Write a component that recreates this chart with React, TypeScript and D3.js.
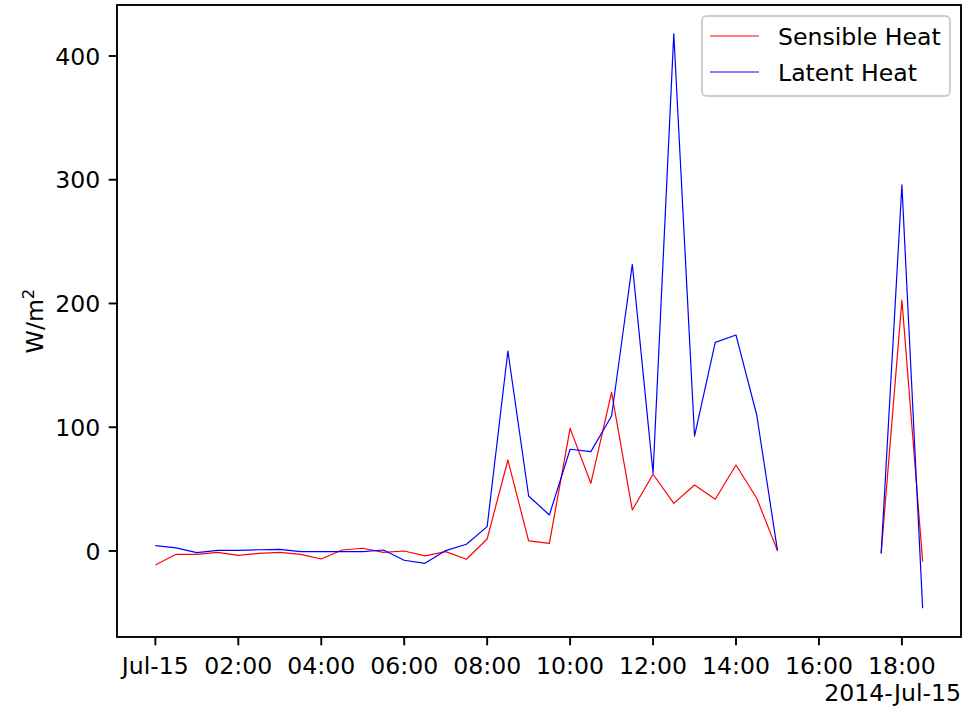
import React from "react";
import * as d3 from "d3";

const times: string[] = [
  "00:00","00:30","01:00","01:30","02:00","02:30","03:00","03:30","04:00","04:30",
  "05:00","05:30","06:00","06:30","07:00","07:30","08:00","08:30","09:00","09:30",
  "10:00","10:30","11:00","11:30","12:00","12:30","13:00","13:30","14:00","14:30",
  "15:00","15:30","16:00","16:30","17:00","17:30","18:00","18:30",
];

const sensible: (number | null)[] = [
  -11.3, -2.7, -2.7, -1.1, -3.5, -1.9, -1.1, -2.7, -6.5, 0.8,
  2.2, -1.1, 0, -4, -0.5, -6.7, 9.7, 73.5, 8.1, 6.2,
  99.1, 54.7, 128.2, 33.1, 62, 38.5, 53.3, 41.8, 69.5, 42.6,
  0.3, null, null, null, null, -1.9, 202.8, -8.6,
];

const latent: (number | null)[] = [
  4.3, 2.5, -1.3, 0.5, 0.5, 1, 1.3, -0.5, -0.5, -0.5,
  -0.5, 0.8, -7.5, -10, 0.3, 5.4, 19.7, 161.6, 44.4, 29.1,
  82.2, 80.3, 109.1, 231.7, 62.8, 418, 92.9, 168.6, 174.5, 109.9,
  0.3, null, null, null, null, -1.9, 295.8, -46.3,
];

const yTicks = [0, 100, 200, 300, 400];
const seriesNames = ["Sensible Heat", "Latent Heat"];
const seriesColors = ["#ff0000", "#0000ff"];
const offsetLabel = "2014-Jul-15";

const FONT = "'DejaVu Sans', sans-serif";
const FS = 23.6;

const parse = (t: string) => {
  const [h, m] = t.split(":").map(Number);
  return new Date(Date.UTC(2014, 6, 15, h, m));
};

export default function App() {
  const W = 966, H = 712;
  const L = 117, R = 961, T = 5, B = 637;
  const dates = times.map(parse);
  const t0 = dates[0].getTime();
  const t1 = dates[dates.length - 1].getTime();
  const mx = (t1 - t0) * 0.05;
  const x = d3.scaleUtc().domain([new Date(t0 - mx), new Date(t1 + mx)]).range([L, R]);

  const all = [...sensible, ...latent].filter((v) => v != null) as number[];
  const ymin = d3.min(all)!, ymax = d3.max(all)!;
  const my = (ymax - ymin) * 0.05;
  const y = d3.scaleLinear().domain([ymin - my, ymax + my]).range([B, T]);

  const xTicks = d3.utcHour.every(2)!.range(dates[0], new Date(t1 + mx));
  const fmtH = d3.utcFormat("%H:%M");
  const fmtD = d3.utcFormat("%b-%d");

  const mkLine = (vals: (number | null)[]) =>
    d3
      .line<number>()
      .defined((i) => vals[i] != null)
      .x((i) => x(dates[i]))
      .y((i) => y(vals[i] as number))(d3.range(vals.length));

  const tickLen = 8.3;
  const pad = 8.3;

  return (
    <svg
      width={W}
      height={H}
      style={{ position: "absolute", left: 0, top: 0, background: "#fff" }}
      fontFamily={FONT}
    >
      <rect x={0} y={0} width={W} height={H} fill="#fff" />
      {[sensible, latent].map((vals, k) => (
        <path
          key={k}
          d={mkLine(vals) || ""}
          fill="none"
          stroke={seriesColors[k]}
          strokeWidth={1.2}
          strokeLinejoin="round"
        />
      ))}
      <rect x={L} y={T} width={R - L} height={B - T} fill="none" stroke="#000" strokeWidth={1.9} />
      {yTicks.map((v) => (
        <g key={v}>
          <line x1={L - tickLen} x2={L} y1={y(v)} y2={y(v)} stroke="#000" strokeWidth={1.9} />
          <text x={L - tickLen - pad} y={y(v) + 8.6} textAnchor="end" fontSize={FS} fill="#000">
            {v}
          </text>
        </g>
      ))}
      {xTicks.map((d, i) => (
        <g key={i}>
          <line x1={x(d)} x2={x(d)} y1={B} y2={B + tickLen} stroke="#000" strokeWidth={1.9} />
          <text x={x(d)} y={674} textAnchor="middle" fontSize={FS} fill="#000">
            {d.getUTCHours() === 0 ? fmtD(d) : fmtH(d)}
          </text>
        </g>
      ))}
      <text x={R} y={701} textAnchor="end" fontSize={FS} fill="#000">
        {offsetLabel}
      </text>
      <text transform={`translate(43,${(T + B) / 2}) rotate(-90)`} textAnchor="middle" fontSize={FS} fill="#000">
        W/m<tspan dy={-9} fontSize={FS * 0.7}>2</tspan>
      </text>
      <g>
        <rect x={702} y={16} width={248} height={80} rx={4.7} fill="#fff" fillOpacity={0.8} stroke="#cccccc" strokeWidth={1.9} />
        {seriesNames.map((n, k) => (
          <g key={n}>
            <line x1={710} x2={759} y1={36 + k * 36} y2={36 + k * 36} stroke={seriesColors[k]} strokeWidth={1.2} />
            <text x={778} y={36 + k * 36 + 8.6} fontSize={FS} fill="#000">
              {n}
            </text>
          </g>
        ))}
      </g>
    </svg>
  );
}
